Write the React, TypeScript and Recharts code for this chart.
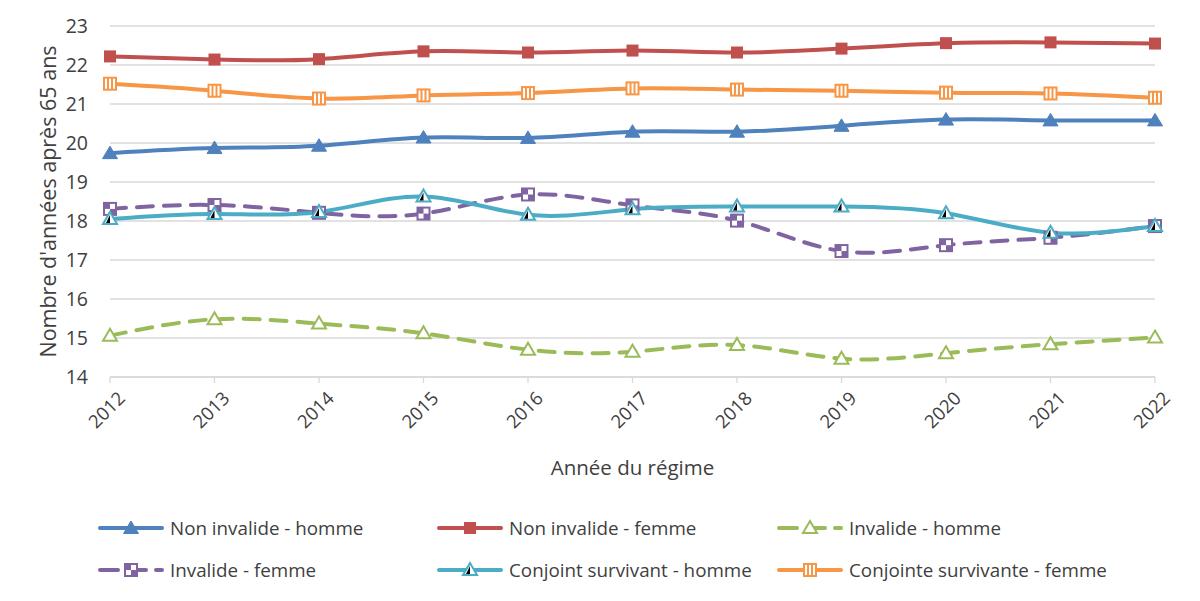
import React from "react";
import {
  CartesianGrid,
  Legend,
  Line,
  LineChart,
  XAxis,
  YAxis,
} from "recharts";

// Office 2010 palette, as in the source workbook
const BLUE = "#4F81BD";
const RED = "#C0504D";
const GREEN = "#9BBB59";
const PURPLE = "#8064A2";
const TEAL = "#4BACC6";
const ORANGE = "#F79646";
const TEXT = "#404040";
const GRID = "#D9D9D9";
const FONT = "'Open Sans', sans-serif";

const YEARS = ["2012", "2013", "2014", "2015", "2016", "2017", "2018", "2019", "2020", "2021", "2022"];
const Y_TICKS = [14, 15, 16, 17, 18, 19, 20, 21, 22, 23];

const NON_INVALIDE_HOMME = [19.74, 19.87, 19.93, 20.14, 20.13, 20.29, 20.29, 20.44, 20.6, 20.58, 20.58];
const NON_INVALIDE_FEMME = [22.22, 22.14, 22.15, 22.35, 22.32, 22.37, 22.32, 22.42, 22.56, 22.58, 22.55];
const INVALIDE_HOMME = [15.06, 15.48, 15.37, 15.12, 14.7, 14.65, 14.82, 14.47, 14.61, 14.84, 15.01];
const INVALIDE_FEMME = [18.31, 18.41, 18.21, 18.19, 18.68, 18.4, 18.01, 17.23, 17.38, 17.57, 17.87];
const CONJOINT_HOMME = [18.05, 18.18, 18.23, 18.63, 18.16, 18.3, 18.37, 18.37, 18.2, 17.7, 17.87];
const CONJOINTE_FEMME = [21.52, 21.34, 21.14, 21.22, 21.28, 21.4, 21.37, 21.34, 21.29, 21.27, 21.16];

const data = YEARS.map((year, i) => ({
  year,
  nih: NON_INVALIDE_HOMME[i],
  nif: NON_INVALIDE_FEMME[i],
  ih: INVALIDE_HOMME[i],
  if: INVALIDE_FEMME[i],
  csh: CONJOINT_HOMME[i],
  csf: CONJOINTE_FEMME[i],
}));

type MarkerKind = "triFill" | "sqFill" | "triOpen" | "sqCheck" | "triHalf" | "sqBars";

function Marker({ kind, cx, cy, color }: { kind: MarkerKind; cx: number; cy: number; color: string }) {
  const s = 6;
  switch (kind) {
    case "triFill":
      return <path d={`M${cx},${cy - 7} L${cx + 7.5},${cy + 5.5} L${cx - 7.5},${cy + 5.5} Z`} fill={color} stroke={color} strokeWidth={1} />;
    case "sqFill":
      return <rect x={cx - s} y={cy - s} width={2 * s} height={2 * s} fill={color} />;
    case "triOpen":
      return <path d={`M${cx},${cy - 7} L${cx + 7},${cy + 5} L${cx - 7},${cy + 5} Z`} fill="#fff" stroke={color} strokeWidth={2} />;
    case "sqCheck":
      return (
        <g>
          <rect x={cx - s} y={cy - s} width={2 * s} height={2 * s} fill="#fff" stroke={color} strokeWidth={2} />
          <rect x={cx - s} y={cy - s} width={s} height={s} fill={color} />
          <rect x={cx} y={cy} width={s} height={s} fill={color} />
        </g>
      );
    case "triHalf":
      return (
        <g>
          <path d={`M${cx},${cy - 7} L${cx + 7},${cy + 5} L${cx - 7},${cy + 5} Z`} fill="#fff" stroke={color} strokeWidth={2} />
          <path d={`M${cx},${cy - 4} L${cx},${cy + 4} L${cx - 4},${cy + 4} Z`} fill="#000" />
        </g>
      );
    case "sqBars":
      return (
        <g>
          <rect x={cx - s} y={cy - s} width={2 * s} height={2 * s} fill="#fff" stroke={color} strokeWidth={2} />
          <line x1={cx - 2} y1={cy - s} x2={cx - 2} y2={cy + s} stroke={color} strokeWidth={2} />
          <line x1={cx + 2} y1={cy - s} x2={cx + 2} y2={cy + s} stroke={color} strokeWidth={2} />
        </g>
      );
  }
}

const SERIES: Array<{ key: string; name: string; color: string; kind: MarkerKind; dashed: boolean }> = [
  { key: "nih", name: "Non invalide - homme", color: BLUE, kind: "triFill", dashed: false },
  { key: "nif", name: "Non invalide - femme", color: RED, kind: "sqFill", dashed: false },
  { key: "ih", name: "Invalide - homme", color: GREEN, kind: "triOpen", dashed: true },
  { key: "if", name: "Invalide - femme", color: PURPLE, kind: "sqCheck", dashed: true },
  { key: "csh", name: "Conjoint survivant - homme", color: TEAL, kind: "triHalf", dashed: false },
  { key: "csf", name: "Conjointe survivante - femme", color: ORANGE, kind: "sqBars", dashed: false },
];

const DASH = "16 11";

function XTick({ x, y, payload }: any) {
  return (
    <g transform={`translate(${x + 2},${y + 6})`}>
      <text x={4} y={16} textAnchor="end" transform="rotate(-45)" fill={TEXT} fontSize={18.5} fontFamily={FONT}>
        {payload.value}
      </text>
    </g>
  );
}

function YLabel({ viewBox }: any) {
  const cx = viewBox.x + 47;
  const cy = viewBox.y + viewBox.height / 2;
  return (
    <text x={cx} y={cy} transform={`rotate(-90, ${cx}, ${cy})`} textAnchor="middle" dominantBaseline="central" fill={TEXT} fontSize={21.5} fontFamily={FONT}>
      Nombre d'années après 65 ans
    </text>
  );
}

// legend laid out like the Excel one: 3 columns x 2 rows
const LEGEND_COLS = [98, 437, 777];
const LEGEND_ROWS = [20, 62];

function LegendBox() {
  return (
    <div style={{ position: "relative", width: 1200, height: 84, fontFamily: FONT, fontSize: 18.8, color: TEXT }}>
      {SERIES.map((s, i) => {
        const left = LEGEND_COLS[i % 3];
        const top = LEGEND_ROWS[Math.floor(i / 3)];
        return (
          <div key={s.key} style={{ position: "absolute", left, top: top - 12, height: 24, display: "flex", alignItems: "center", whiteSpace: "nowrap" }}>
            <svg width={66} height={20} style={{ display: "block" }}>
              <line x1={2} y1={10} x2={64} y2={10} stroke={s.color} strokeWidth={4} strokeLinecap="round" strokeDasharray={s.dashed ? "18 10" : undefined} />
              <Marker kind={s.kind} cx={33} cy={10} color={s.color} />
            </svg>
            <span style={{ marginLeft: 6 }}>{s.name}</span>
          </div>
        );
      })}
    </div>
  );
}

export default function App() {
  return (
    <div style={{ position: "absolute", left: 0, top: 0, width: 1200, height: 601, background: "#fff" }}>
      <LineChart width={1200} height={601} data={data} margin={{ top: 26, right: 45, left: 0, bottom: 114 }}>
        <CartesianGrid vertical={false} stroke={GRID} strokeWidth={1.3} />
        <XAxis
          dataKey="year"
          height={110}
          stroke={GRID}
          strokeWidth={1.3}
          tickSize={6}
          tick={<XTick />}
          interval={0}
          label={{ value: "Année du régime", position: "insideBottom", offset: 12, fill: TEXT, fontSize: 20.5, fontFamily: FONT }}
        />
        <YAxis
          domain={[14, 23]}
          ticks={Y_TICKS}
          width={110}
          axisLine={false}
          tickLine={false}
          tickSize={0}
          tickMargin={22}
          tick={{ fill: TEXT, fontSize: 19.5, fontFamily: FONT }}
          label={<YLabel />}
        />
        {SERIES.map((s) => (
          <Line
            key={s.key}
            dataKey={s.key}
            name={s.name}
            type="natural"
            stroke={s.color}
            strokeWidth={4}
            strokeDasharray={s.dashed ? DASH : undefined}
            strokeLinecap="round"
            isAnimationActive={false}
            dot={(p: any) => <Marker key={`${s.key}-${p.index}`} kind={s.kind} cx={p.cx} cy={p.cy} color={s.color} />}
            activeDot={false}
          />
        ))}
        <Legend
          layout="horizontal"
          verticalAlign="middle"
          align="center"
          wrapperStyle={{ top: 508, left: 0, width: 1200 }}
          content={() => <LegendBox />}
        />
      </LineChart>
    </div>
  );
}
